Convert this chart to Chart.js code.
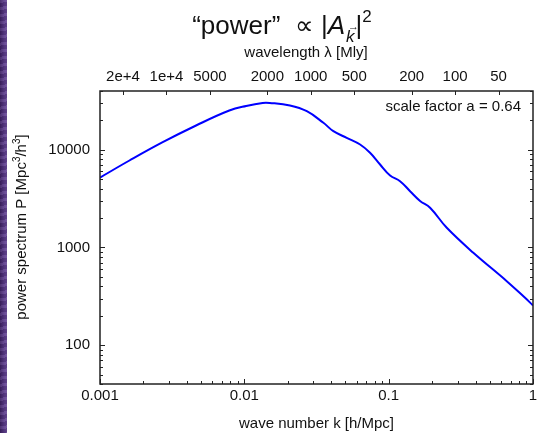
<!DOCTYPE html>
<html lang="en">
<head>
<meta charset="UTF-8">
<title>Power spectrum</title>
<script src="https://cdn.jsdelivr.net/npm/chart.js"></script>
<style>
  html, body { margin: 0; padding: 0; background: #fff; }
  #wrap { position: relative; width: 538px; height: 433px; overflow: hidden; }
  #spectrum { position: absolute; left: 0; top: 0; }
  /* slide background peeking in on the left */
  #edge {
    position: absolute; left: 0; top: 0; width: 7px; height: 433px;
    background:
      repeating-linear-gradient(170deg, rgba(255,255,255,0.08) 0 3px, rgba(0,0,0,0.10) 3px 7px),
      linear-gradient(90deg, #3d2163, #5b3b8a 60%, #6a4a98);
  }
</style>
</head>
<body>
<div id="wrap">
  <canvas id="spectrum" width="538" height="433"></canvas>
  <div id="edge"></div>
</div>
<script>
  // wave number k [h/Mpc] and matter power spectrum P(k) [Mpc^3/h^3]
  const waveNumbers = [0.001, 0.0016, 0.00272, 0.00463, 0.00787, 0.0103, 0.0134, 0.0150,
                       0.0207, 0.0271, 0.0353, 0.0414, 0.0512, 0.0634, 0.0743, 0.0872,
                       0.1023, 0.1199, 0.1407, 0.165, 0.1936, 0.2527, 0.386, 0.658,
                       0.881, 1.0];
  const powerValues = [5200, 7770, 11960, 17730, 25230, 28100, 30200, 30200,
                       28400, 24830, 18900, 15500, 13270, 11330, 9320, 7070,
                       5460, 4770, 3770, 2995, 2550, 1590, 883, 452,
                       305, 255];

  const kMajor = [0.001, 0.01, 0.1, 1];
  const kMajorLabels = ['0.001', '0.01', '0.1', '1'];
  const pMajor = [100, 1000, 10000];
  const pMajorLabels = ['100', '1000', '10000'];
  const lambdaTicks = [20000, 10000, 5000, 2000, 1000, 500, 200, 100, 50];
  const lambdaLabels = ['2e+4', '1e+4', '5000', '2000', '1000', '500', '200', '100', '50'];

  // lambda [Mly] = 2*pi/k, with k in h/Mpc, h = 0.71
  const lambdaTimesK = 2 * Math.PI * 3.2616 / 0.71;

  const textColor = '#111';
  const frameColor = '#222';
  const sans = "'Liberation Sans', Arial, sans-serif";

  Chart.defaults.font.family = sans;
  Chart.defaults.font.size = 15;
  Chart.defaults.color = textColor;

  function matchIndex(list, v) {
    return list.findIndex(m => Math.abs(v / m - 1) < 1e-6);
  }

  // majors plus 2..9 minors inside each decade, between lo and hi
  function logTicks(lo, hi) {
    const out = [];
    for (let d = Math.pow(10, Math.floor(Math.log10(lo))); d <= hi * 1.0001; d *= 10) {
      for (let m = 1; m <= 9; m++) {
        const v = d * m;
        if (v >= lo * 0.9999 && v <= hi * 1.0001) out.push(v);
      }
    }
    return out;
  }

  function noPadding(scale) {
    scale.paddingLeft = 0; scale.paddingRight = 0;
    scale.paddingTop = 0; scale.paddingBottom = 0;
  }

  // inward gnuplot-style ticks, border frame and the text bits Chart.js can't set
  const decorations = {
    id: 'decorations',
    afterDraw(chart) {
      const ctx = chart.ctx;
      const a = chart.chartArea;
      const xs = chart.scales.x, ys = chart.scales.y, xt = chart.scales.xTop;
      ctx.save();
      ctx.strokeStyle = frameColor;
      ctx.lineWidth = 1;
      ctx.beginPath();
      xs.ticks.forEach(t => {
        const px = Math.round(xs.getPixelForValue(t.value)) + 0.5;
        const len = matchIndex(kMajor, t.value) >= 0 ? 5 : 3;
        ctx.moveTo(px, a.bottom); ctx.lineTo(px, a.bottom - len);
      });
      ys.ticks.forEach(t => {
        const py = Math.round(ys.getPixelForValue(t.value)) + 0.5;
        const len = matchIndex(pMajor, t.value) >= 0 ? 5 : 3;
        ctx.moveTo(a.left, py); ctx.lineTo(a.left + len, py);
        ctx.moveTo(a.right, py); ctx.lineTo(a.right - len, py);
      });
      xt.ticks.forEach(t => {
        const px = Math.round(xt.getPixelForValue(t.value)) + 0.5;
        ctx.moveTo(px, a.top); ctx.lineTo(px, a.top + 4);
      });
      ctx.stroke();

      ctx.lineWidth = 1.5;
      ctx.strokeRect(a.left, a.top, a.right - a.left, a.bottom - a.top);

      ctx.fillStyle = textColor;
      ctx.textBaseline = 'alphabetic';

      // top axis title
      ctx.font = '15px ' + sans;
      ctx.textAlign = 'center';
      ctx.fillText('wavelength \u03bb [Mly]', 306, 57);

      // annotation
      ctx.textAlign = 'right';
      ctx.fillText('scale factor a = 0.64', 521, 111);

      // y axis title with superscripts
      const big = '15px ' + sans;
      const small = '10px ' + sans;
      const yParts = [['power spectrum P [Mpc', big, 0], ['3', small, -6], ['/h', big, 0], ['3', small, -6], [']', big, 0]];
      let total = 0;
      yParts.forEach(p => { ctx.font = p[1]; total += ctx.measureText(p[0]).width; });
      ctx.save();
      ctx.translate(26, 227);
      ctx.rotate(-Math.PI / 2);
      ctx.textAlign = 'left';
      let cx = -total / 2;
      yParts.forEach(p => { ctx.font = p[1]; ctx.fillText(p[0], cx, p[2]); cx += ctx.measureText(p[0]).width; });
      ctx.restore();

      // headline: "power" ∝ |A_k|^2
      const base = 34;
      const parts = [
        ['\u201cpower\u201d  \u221d |', '26px ' + sans, 0, 0],
        ['A', 'italic 26px ' + sans, 0, 1],
        ['k', 'italic 17px ' + sans, 8, 1],
        ['|', '26px ' + sans, 0, 0],
        ['2', '17px ' + sans, -12, 0]
      ];
      let tw = 0;
      parts.forEach(p => { ctx.font = p[1]; tw += ctx.measureText(p[0]).width + p[3]; });
      let tx = 282 - tw / 2;
      ctx.textAlign = 'left';
      parts.forEach(p => {
        ctx.font = p[1];
        const w = ctx.measureText(p[0]).width;
        ctx.fillText(p[0], tx, base + p[2]);
        if (p[0] === 'k') {
          ctx.font = '11px ' + sans;
          ctx.fillText('\u2192', tx + 2, base + p[2] - 12);
        }
        tx += w + p[3];
      });
      ctx.restore();
    }
  };

  new Chart(document.getElementById('spectrum'), {
    type: 'scatter',
    data: {
      datasets: [{
        data: waveNumbers.map((k, i) => ({ x: k, y: powerValues[i] })),
        showLine: true,
        borderColor: '#0000ff',
        borderWidth: 2,
        pointRadius: 0,
        tension: 0.4,
        xAxisID: 'x',
        yAxisID: 'y'
      }]
    },
    options: {
      responsive: false,
      animation: false,
      devicePixelRatio: 1,
      layout: { padding: { left: 0, right: 5, top: 0, bottom: 0 } },
      plugins: { legend: { display: false }, tooltip: { enabled: false } },
      scales: {
        x: {
          type: 'logarithmic',
          position: 'bottom',
          min: 0.001,
          max: 1,
          border: { display: false },
          grid: { drawOnChartArea: false, drawTicks: false },
          ticks: {
            autoSkip: false, maxRotation: 0, padding: 3,
            callback: v => { const i = matchIndex(kMajor, v); return i >= 0 ? kMajorLabels[i] : ''; }
          },
          title: { display: true, text: 'wave number k [h/Mpc]', padding: { top: 0, bottom: 0 } },
          afterBuildTicks: s => { s.ticks = logTicks(0.001, 1).map(v => ({ value: v })); },
          afterFit: s => { s.height = 49; noPadding(s); }
        },
        xTop: {
          type: 'logarithmic',
          position: 'top',
          reverse: true,
          min: lambdaTimesK / 1,
          max: lambdaTimesK / 0.001,
          border: { display: false },
          grid: { drawOnChartArea: false, drawTicks: false },
          ticks: {
            autoSkip: false, maxRotation: 0, padding: 5,
            callback: v => { const i = matchIndex(lambdaTicks, v); return i >= 0 ? lambdaLabels[i] : ''; }
          },
          afterBuildTicks: s => { s.ticks = lambdaTicks.map(v => ({ value: v })); },
          afterFit: s => { s.height = 91; noPadding(s); }
        },
        y: {
          type: 'logarithmic',
          position: 'left',
          min: 40,
          max: 40000,
          border: { display: false },
          grid: { drawOnChartArea: false, drawTicks: false },
          ticks: {
            autoSkip: false, padding: 10,
            callback: v => { const i = matchIndex(pMajor, v); return i >= 0 ? pMajorLabels[i] : ''; }
          },
          afterBuildTicks: s => { s.ticks = logTicks(40, 40000).map(v => ({ value: v })); },
          afterFit: s => { s.width = 100; noPadding(s); }
        }
      }
    },
    plugins: [decorations]
  });
</script>
</body>
</html>
